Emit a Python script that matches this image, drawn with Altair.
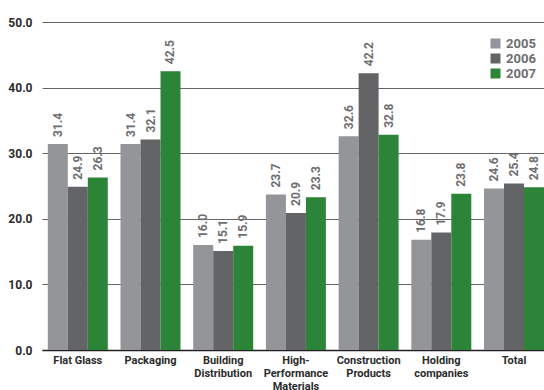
import altair as alt
import pandas as pd

# Segment names ("|" marks a line break in the axis label)
categories = [
    "Flat Glass",
    "Packaging",
    "Building|Distribution",
    "High-|Performance|Materials",
    "Construction|Products",
    "Holding|companies",
    "Total",
]
years = ["2005", "2006", "2007"]
values_2005 = [31.4, 31.4, 16.0, 23.7, 32.6, 16.8, 24.6]
values_2006 = [24.9, 32.1, 15.1, 20.9, 42.2, 17.9, 25.4]
values_2007 = [26.3, 42.5, 15.9, 23.3, 32.8, 23.8, 24.8]
colors = ["#939598", "#636466", "#2b8437"]
y_ticks = [0, 10, 20, 30, 40, 50]

rows = []
for year, vals in zip(years, [values_2005, values_2006, values_2007]):
    for seg, v in zip(categories, vals):
        rows.append({"segment": seg, "year": year, "value": v})
df = pd.DataFrame(rows)

x_enc = alt.X(
    "segment:N",
    sort=categories,
    scale=alt.Scale(paddingInner=0.175, paddingOuter=0.04, align=1),
    axis=alt.Axis(
        title=None,
        labelAngle=0,
        labelExpr="split(datum.label, '|')",
        labelFont="Roboto",
        labelFontWeight="bold",
        labelFontSize=11,
        labelColor="#2b2b2b",
        labelPadding=4,
        labelLineHeight=13.3,
        labelBaseline="top",
        ticks=False,
        domainColor="#231f20",
        domainWidth=1.5,
    ),
)
y_enc = alt.Y(
    "value:Q",
    scale=alt.Scale(domain=[0, 50], nice=False),
    axis=alt.Axis(
        title=None,
        values=y_ticks,
        format=".1f",
        grid=True,
        gridColor="#666666",
        gridWidth=1.2,
        ticks=False,
        domain=False,
        labelFont="Roboto",
        labelFontWeight="bold",
        labelFontSize=12,
        labelColor="#2b2b2b",
        labelPadding=10,
    ),
)

base = alt.Chart(df)

bars = base.mark_bar().encode(
    x=x_enc,
    xOffset=alt.XOffset("year:N", sort=years),
    y=y_enc,
    color=alt.Color(
        "year:N",
        scale=alt.Scale(domain=years, range=colors),
        legend=alt.Legend(
            title=None,
            orient="none",
            legendX=447,
            legendY=15,
            symbolType="square",
            symbolSize=100,
            symbolStrokeWidth=0,
            labelFont="Roboto",
            labelFontWeight="bold",
            labelFontSize=13,
            labelColor="#6d6e71",
            labelOffset=4,
            rowPadding=1,
        ),
    ),
)

labels = base.mark_text(
    angle=270,
    align="left",
    baseline="middle",
    dx=7,
    font="Roboto",
    fontWeight="bold",
    fontSize=12,
    color="#6d6e71",
).encode(
    x=alt.X("segment:N", sort=categories),
    xOffset=alt.XOffset("year:N", sort=years),
    y=alt.Y("value:Q"),
    text=alt.Text("value:Q", format=".1f"),
)

chart = (
    alt.layer(bars, labels)
    .properties(
        width=502,
        height=328,
        padding={"left": 42, "top": 22, "right": 0, "bottom": 40},
        autosize=alt.AutoSizeParams(type="none"),
        background="white",
    )
    .configure_view(stroke=None)
)

chart.save("out.html", embed_options={"renderer": "svg", "actions": False})
